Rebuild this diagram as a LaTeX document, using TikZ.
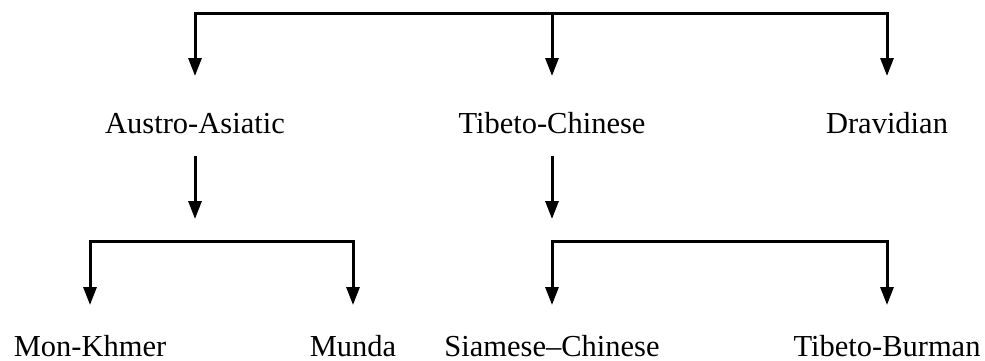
\documentclass[tikz,border=0pt]{standalone}
\usepackage{fontspec}
\setmainfont{Liberation Serif}
\usetikzlibrary{arrows.meta}
\tikzset{
  lang/.style={anchor=base, inner sep=0pt, text depth=0pt, font=\fontsize{30.5}{36}\selectfont},
  link/.style={line width=3pt, line join=miter, -{Triangle[length=18pt,width=13pt]}},
  bothlink/.style={line width=3pt, line join=miter, {Triangle[length=18pt,width=13pt]}-{Triangle[length=18pt,width=13pt]}},
}
\begin{document}
\begin{tikzpicture}[x=1pt,y=-1pt]
\useasboundingbox (0,0) rectangle (985,360);

% language names
\node[lang] (aa) at (195,133) {Austro-Asiatic};
\node[lang] (tc) at (552,133) {Tibeto-Chinese};
\node[lang] (dr) at (887,133) {Dravidian};
\node[lang] (mk) at (90,356) {Mon-Khmer};
\node[lang] (mu) at (353,356) {Munda};
\node[lang] (sc) at (552,356) {Siamese–Chinese};
\node[lang] (tb) at (887,356) {Tibeto-Burman};

% top bracket
\coordinate (topL) at (195,13);
\coordinate (topM) at (552,13);
\coordinate (topR) at (887,13);
\coordinate (aaIn) at (195,76);
\coordinate (tcIn) at (552,76);
\coordinate (drIn) at (887,76);
\draw[bothlink] (aaIn) -- (topL) -- (topR) -- (drIn);
\draw[link] (topM) -- (tcIn);

% second level
\coordinate (aaOut) at (195,156);
\coordinate (aaTip) at (195,219);
\coordinate (tcOut) at (552,156);
\coordinate (tcTip) at (552,219);
\draw[link] (aaOut) -- (aaTip);
\draw[link] (tcOut) -- (tcTip);

% Austro-Asiatic branches
\coordinate (aaBL) at (90,241);
\coordinate (aaBR) at (353,241);
\coordinate (mkIn) at (90,305);
\coordinate (muIn) at (353,305);
\draw[bothlink] (mkIn) -- (aaBL) -- (aaBR) -- (muIn);

% Tibeto-Chinese branches
\coordinate (tcBL) at (552,241);
\coordinate (tcBR) at (887,241);
\coordinate (scIn) at (552,305);
\coordinate (tbIn) at (887,305);
\draw[bothlink] (scIn) -- (tcBL) -- (tcBR) -- (tbIn);
\end{tikzpicture}
\end{document}
